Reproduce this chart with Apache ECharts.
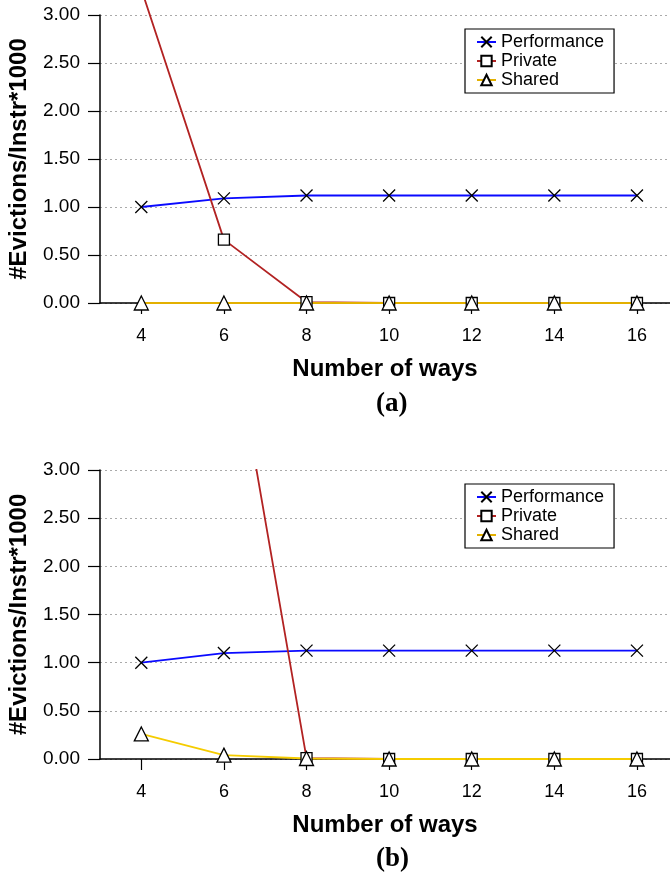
<!DOCTYPE html>
<html>
<head>
<meta charset="utf-8">
<script src="https://cdn.jsdelivr.net/npm/echarts@6/dist/echarts.min.js"></script>
<style>
  html, body { margin: 0; padding: 0; background: #fff; }
  #chart { width: 670px; height: 875px; }
</style>
</head>
<body>
<div id="chart"></div>
<script>
// number of ways (x) and the three series for panel (a) and (b)
var ways = [4, 6, 8, 10, 12, 14, 16];
var perfA = [1.00, 1.09, 1.12, 1.12, 1.12, 1.12, 1.12];
var privA = [3.27, 0.66, 0.01, 0, 0, 0, 0];
var sharedA = [0, 0, 0, 0, 0, 0, 0];
var perfB = [1.00, 1.10, 1.125, 1.125, 1.125, 1.125, 1.125];
var privB = [7.5, 4.95, 0.01, 0, 0, 0, 0];
var sharedB = [0.26, 0.04, 0.005, 0, 0, 0, 0];

var FONT = "Liberation Sans";
var cross = "path://M0,0L10,10M0,10L10,0";

function pairs(v) {
    return ways.map(function (w, i) { return [w, v[i]]; });
}

function xAx(idx) {
    return {
        type: "value", gridIndex: idx, min: 3, max: 16.8,
        name: "Number of ways", nameLocation: "middle", nameGap: 54,
        nameTextStyle: { fontFamily: FONT, fontWeight: "bold", fontSize: 24, color: "#000" },
        axisLine: { lineStyle: { color: "#000", width: 1.5 } },
        axisTick: { customValues: ways, length: 11, lineStyle: { color: "#000", width: 1.2 } },
        axisLabel: { customValues: ways, margin: 24, fontFamily: FONT, fontSize: 18, color: "#000" },
        splitLine: { show: false },
    };
}

function yAx(idx) {
    return {
        type: "value", gridIndex: idx, min: 0, max: 3, interval: 0.5,
        name: "#Evictions/Instr*1000", nameLocation: "middle", nameGap: 69,
        nameTextStyle: { fontFamily: FONT, fontWeight: "bold", fontSize: 24, color: "#000" },
        axisLine: { show: true, lineStyle: { color: "#000", width: 1.5 } },
        axisTick: { show: true, length: 12, lineStyle: { color: "#000", width: 1.2 } },
        axisLabel: {
            margin: 20, fontFamily: FONT, fontSize: 19, color: "#000",
            formatter: function (v) { return v.toFixed(2); },
        },
        splitLine: { lineStyle: { color: "#aaa", type: [2, 3], width: 1 } },
    };
}

function ser(name, data, idx, color, symbol, size, clip) {
    return {
        name: name, type: "line", xAxisIndex: idx, yAxisIndex: idx,
        data: pairs(data), symbol: symbol, symbolSize: size, clip: clip,
        showAllSymbol: true,
        lineStyle: { color: color, width: 1.8 },
        itemStyle: { color: "#fff", borderColor: "#000", borderWidth: 1.3 },
        emphasis: { disabled: true },
    };
}

function leg(top) {
    return {
        left: 465, top: top, orient: "vertical",
        data: ["Performance", "Private", "Shared"],
        backgroundColor: "#fff", borderColor: "#000", borderWidth: 1.2,
        padding: [4, 10, 4, 11], itemGap: 1, itemWidth: 19, itemHeight: 13,
        textStyle: { fontFamily: FONT, fontSize: 18, color: "#000", lineHeight: 18 },
    };
}

var chart = echarts.init(document.getElementById("chart"), null, { renderer: "canvas" });
chart.setOption({
    animation: false,
    grid: [
        { left: 100, right: 0, top: 15, height: 288, outerBoundsMode: "none" },
        { left: 100, right: 0, top: 470, height: 289, outerBoundsMode: "none" },
    ],
    xAxis: [xAx(0), xAx(1)],
    yAxis: [yAx(0), yAx(1)],
    legend: [leg(29), leg(484)],
    series: [
        ser("Performance", perfA, 0, "#0a0aff", cross, 12, true),
        ser("Private", privA, 0, "#b22222", "rect", 11, false),
        ser("Shared", sharedA, 0, "#e3b000", "triangle", 14, true),
        ser("Performance", perfB, 1, "#0a0aff", cross, 12, true),
        ser("Private", privB, 1, "#b22222", "rect", 11, true),
        ser("Shared", sharedB, 1, "#f5cc00", "triangle", 14, true),
    ],
    graphic: [
        { type: "text", left: 376, top: 391, style: { text: "(a)", font: "bold 27px 'Liberation Serif'", fill: "#000" } },
        { type: "text", left: 376, top: 846, style: { text: "(b)", font: "bold 27px 'Liberation Serif'", fill: "#000" } },
    ],
});
</script>
</body>
</html>
